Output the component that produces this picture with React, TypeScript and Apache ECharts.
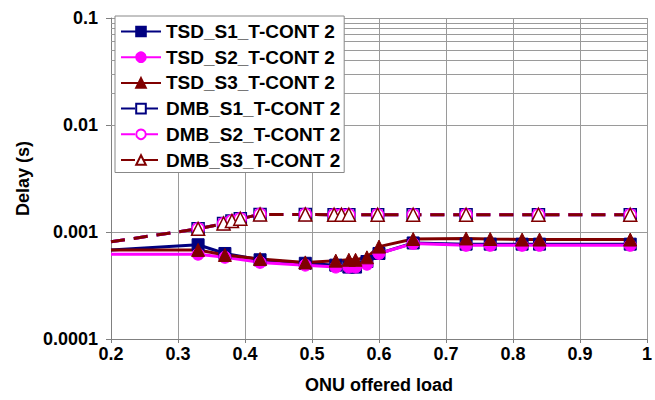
import React, { useEffect, useRef } from "react";
import * as echarts from "echarts";

const tsdLoad = [0.2, 0.33, 0.37, 0.4225, 0.49, 0.5355, 0.555, 0.565, 0.582, 0.6, 0.651, 0.73, 0.766, 0.8136, 0.8396, 0.975];
const tsdS1 = [0.00068, 0.00076, 0.00063, 0.00055, 0.00051, 0.00049, 0.00047, 0.00047, 0.00053, 0.00063, 0.00079, 0.00077, 0.00077, 0.00077, 0.00077, 0.00077];
const tsdS2 = [0.00062, 0.00062, 0.00058, 0.00052, 0.00049, 0.00047, 0.00047, 0.00047, 0.0005, 0.00063, 0.00078, 0.00075, 0.00075, 0.00075, 0.00075, 0.00075];
const tsdS3 = [0.00068, 0.00068, 0.00061, 0.00056, 0.00052, 0.00054, 0.00055, 0.00055, 0.00058, 0.00073, 0.00086, 0.00087, 0.00086, 0.00085, 0.00085, 0.00085];

const dmbLoad = [0.2, 0.33, 0.368, 0.3805, 0.393, 0.4225, 0.49, 0.533, 0.544, 0.555, 0.598, 0.651, 0.73, 0.838, 0.975];
const dmbS1 = [0.00081, 0.00107, 0.0012, 0.00127, 0.00133, 0.00146, 0.00146, 0.00145, 0.00145, 0.00145, 0.00145, 0.00145, 0.00145, 0.00145, 0.00145];
const dmbS2 = [0.00081, 0.00107, 0.0012, 0.00127, 0.00133, 0.00146, 0.00146, 0.00145, 0.00145, 0.00145, 0.00145, 0.00145, 0.00145, 0.00145, 0.00145];
const dmbS3 = [0.00081, 0.00107, 0.0012, 0.00127, 0.00133, 0.00146, 0.00146, 0.00145, 0.00145, 0.00145, 0.00145, 0.00145, 0.00145, 0.00145, 0.00145];

const seriesNames = [
  "TSD_S1_T-CONT 2",
  "TSD_S2_T-CONT 2",
  "TSD_S3_T-CONT 2",
  "DMB_S1_T-CONT 2",
  "DMB_S2_T-CONT 2",
  "DMB_S3_T-CONT 2",
];

const minorGridValues = [
  0.0002, 0.0003, 0.0004, 0.0005, 0.0006, 0.0007, 0.0008, 0.0009,
  0.002, 0.003, 0.004, 0.005, 0.006, 0.007, 0.008, 0.009,
  0.02, 0.03, 0.04, 0.05, 0.06, 0.07, 0.08, 0.09,
];

const FONT = "'Liberation Sans', Arial, sans-serif";
const NAVY = "#000080";
const MAGENTA = "#ff00ff";
const DARKRED = "#800000";
const GRID = "#9a9a9a";

function pts(xs: number[], ys: number[]) {
  return xs.map((x, i) =>
    i === 0 ? { value: [x, ys[i]], symbol: "none" } : { value: [x, ys[i]] }
  );
}

export default function App() {
  const ref = useRef<HTMLDivElement>(null);
  useEffect(() => {
    if (!ref.current) return;
    const chart = echarts.init(ref.current, undefined, { renderer: "svg" });
    const solid = (name: string, xs: number[], ys: number[], color: string, symbol: string, size: number) => ({
      name,
      type: "line",
      data: pts(xs, ys),
      symbol,
      symbolSize: size,
      showAllSymbol: true,
      lineStyle: { color, width: 3, type: "solid" },
      itemStyle: { color, borderColor: color, borderWidth: 1 },
      z: 3,
    });
    const dashed = (name: string, xs: number[], ys: number[], color: string, symbol: string, size: number) => ({
      name,
      type: "line",
      data: pts(xs, ys),
      symbol,
      symbolSize: size,
      showAllSymbol: true,
      lineStyle: { color, width: 3, type: [14, 9] },
      itemStyle: { color: "#ffffff", borderColor: color, borderWidth: 1.5 },
      z: 4,
    });
    chart.setOption({
      animation: false,
      backgroundColor: "#ffffff",
      grid: { left: 111, right: 2, top: 18, bottom: 61, containLabel: false },
      legend: {
        orient: "vertical",
        left: 115,
        top: 16,
        z: 20,
        data: seriesNames,
        itemWidth: 40,
        itemHeight: 12,
        itemGap: 6.7,
        padding: [6, 4, 3, 5],
        backgroundColor: "#ffffff",
        borderColor: "#888888",
        borderWidth: 1,
        textStyle: { fontFamily: FONT, fontSize: 19, fontWeight: "bold", color: "#000", lineHeight: 19 },
      },
      xAxis: {
        type: "value",
        min: 0.2,
        max: 1,
        interval: 0.1,
        name: "ONU offered load",
        nameLocation: "middle",
        nameGap: 37,
        nameTextStyle: { fontFamily: FONT, fontSize: 18, fontWeight: "bold", color: "#000" },
        axisLine: { show: true, lineStyle: { color: "#808080", width: 1 } },
        axisTick: { show: true, length: 4, lineStyle: { color: "#808080" } },
        axisLabel: {
          fontFamily: FONT, fontSize: 18, fontWeight: "bold", color: "#000", margin: 6,
          formatter: (v: number) => String(Math.round(v * 10) / 10),
        },
        splitLine: { show: true, lineStyle: { color: GRID, width: 1 } },
      },
      yAxis: {
        type: "log",
        logBase: 10,
        min: 0.0001,
        max: 0.1,
        name: "Delay (s)",
        nameLocation: "middle",
        nameGap: 70,
        nameTextStyle: { fontFamily: FONT, fontSize: 18, fontWeight: "bold", color: "#000" },
        axisLine: { show: true, lineStyle: { color: "#808080", width: 1 } },
        axisTick: { show: true, length: 5, lineStyle: { color: "#808080" } },
        axisLabel: {
          fontFamily: FONT, fontSize: 18, fontWeight: "bold", color: "#000", margin: 13,
          formatter: (v: number) => String(v),
        },
        splitLine: { show: true, lineStyle: { color: GRID, width: 1 } },
      },
      series: [
        {
          name: "minor",
          type: "line",
          data: [],
          silent: true,
          z: 1,
          markLine: {
            silent: true,
            z: 1,
            symbol: "none",
            label: { show: false },
            lineStyle: { color: GRID, width: 1, type: "solid" },
            data: minorGridValues.map((v) => ({ yAxis: v })),
          },
        },
        solid(seriesNames[0], tsdLoad, tsdS1, NAVY, "rect", 12),
        solid(seriesNames[1], tsdLoad, tsdS2, MAGENTA, "circle", 12),
        solid(seriesNames[2], tsdLoad, tsdS3, DARKRED, "triangle", 13),
        dashed(seriesNames[3], dmbLoad, dmbS1, NAVY, "rect", 12),
        dashed(seriesNames[4], dmbLoad, dmbS2, MAGENTA, "circle", 12),
        dashed(seriesNames[5], dmbLoad, dmbS3, DARKRED, "triangle", 13),
      ],
    });
    return () => chart.dispose();
  }, []);
  return <div ref={ref} style={{ width: 655, height: 400, position: "absolute", left: 0, top: 0 }} />;
}
